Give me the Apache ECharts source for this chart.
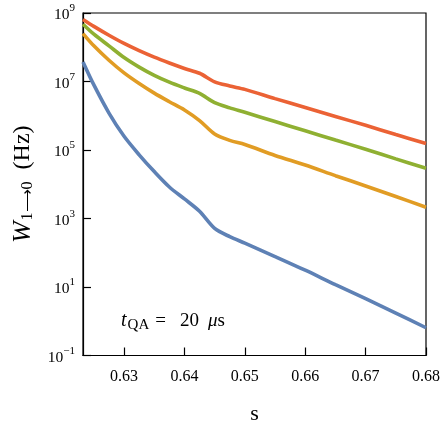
<!DOCTYPE html>
<html>
<head>
<meta charset="utf-8">
<script src="https://cdn.jsdelivr.net/npm/echarts@6/dist/echarts.min.js"></script>
<style>
  html, body { margin: 0; padding: 0; background: #fff; }
  #chart { width: 443px; height: 431px; }
</style>
</head>
<body>
<div id="chart"></div>
<script>
// s values (x axis)
const sValues = [0.6232, 0.625, 0.6275, 0.63, 0.6325, 0.635, 0.6375, 0.64, 0.6425,
  0.645, 0.6475, 0.65, 0.655, 0.66, 0.665, 0.67, 0.675, 0.68];

// W 1->0 in Hz, one array per curve
const redRates = [6.46e8, 4.07e8, 2.24e8, 1.29e8, 7.94e7, 5.13e7, 3.47e7, 2.40e7, 1.74e7,
  9.77e6, 7.41e6, 5.89e6, 3.16e6, 1.74e6, 9.55e5, 5.25e5, 2.82e5, 1.55e5];
const greenRates = [4.68e8, 2.40e8, 1.10e8, 5.01e7, 2.63e7, 1.51e7, 9.55e6, 6.46e6, 4.47e6,
  2.40e6, 1.70e6, 1.26e6, 6.76e5, 3.63e5, 1.95e5, 1.05e5, 5.50e4, 2.95e4];
const orangeRates = [2.51e8, 1.10e8, 4.17e7, 1.78e7, 8.71e6, 4.57e6, 2.57e6, 1.48e6, 7.24e5,
  2.95e5, 1.91e5, 1.45e5, 6.92e4, 3.63e4, 1.78e4, 8.91e3, 4.37e3, 2.14e3];
const blueRates = [3.72e7, 7.94e6, 1.20e6, 2.51e5, 7.24e4, 2.34e4, 8.32e3, 3.72e3, 1.62e3,
  513, 295, 191, 77.6, 30.9, 11.7, 4.57, 1.74, 0.646];

const xTicks = [0.63, 0.64, 0.65, 0.66, 0.67, 0.68];

const FONT = 'Liberation Serif';

function pairs(ys) {
  return sValues.map((s, i) => [s, ys[i]]);
}

function lineSeries(ys, color, z) {
  return {
    type: 'line',
    data: pairs(ys),
    showSymbol: false,
    smooth: 0.3,
    z: z,
    lineStyle: { color: color, width: 3.6 },
    clip: true
  };
}

const chart = echarts.init(document.getElementById('chart'));

chart.setOption({
  animation: false,
  grid: {
    left: 83, right: 17, top: 13, bottom: 75.5,
    show: true, borderColor: '#000', borderWidth: 1.2,
    outerBoundsMode: 'none'
  },
  xAxis: {
    type: 'value',
    min: 0.6232,
    max: 0.68,
    name: 's',
    nameLocation: 'middle',
    nameGap: 48,
    nameTextStyle: { fontFamily: FONT, fontSize: 22, color: '#000' },
    axisLine: { show: true, onZero: false, lineStyle: { color: '#000', width: 1.2 } },
    axisTick: { show: true, inside: true, length: 8, customValues: xTicks, lineStyle: { color: '#000', width: 1.2 } },
    axisLabel: {
      customValues: xTicks,
      margin: 13,
      fontFamily: FONT, fontSize: 16, color: '#000',
      formatter: (v) => v.toFixed(2)
    },
    splitLine: { show: false }
  },
  yAxis: {
    type: 'log',
    logBase: 10,
    min: 0.1,
    max: 1e9,
    interval: 2,
    name: '{w|W}{sub|1⟶0}{n|  (Hz)}',
    nameLocation: 'middle',
    nameRotate: 90,
    nameGap: 47,
    nameTextStyle: {
      color: '#000',
      rich: {
        w: { fontFamily: FONT, fontStyle: 'italic', fontSize: 26, color: '#000' },
        sub: { fontFamily: FONT, fontSize: 16, color: '#000', verticalAlign: 'bottom', padding: [9, 0, 0, 1] },
        n: { fontFamily: FONT, fontSize: 24, color: '#000' }
      }
    },
    axisLine: { show: true, lineStyle: { color: '#000', width: 1.2 } },
    axisTick: { show: true, inside: true, length: 8, lineStyle: { color: '#000', width: 1.2 } },
    minorTick: { show: false },
    axisLabel: {
      margin: 8,
      formatter: (v) => {
        const e = Math.round(Math.log10(v));
        return '{b|10}{e|' + (e < 0 ? '−' + (-e) : e) + '}';
      },
      rich: {
        b: { fontFamily: FONT, fontSize: 15.5, color: '#000', verticalAlign: 'bottom' },
        e: { fontFamily: FONT, fontSize: 11, color: '#000', verticalAlign: 'bottom', padding: [0, 0, 9, 0] }
      }
    },
    splitLine: { show: false }
  },
  graphic: [{
    type: 'text',
    left: 121,
    top: 311,
    style: {
      text: '{t|t}{q|QA}{eq|=}{n|20}{m|μ}{s|s}',
      rich: {
        t: { fontFamily: FONT, fontStyle: 'italic', fontSize: 20, fill: '#000' },
        q: { fontFamily: FONT, fontSize: 15, fill: '#000', verticalAlign: 'bottom', padding: [9, 0, 0, 1] },
        eq: { fontFamily: FONT, fontSize: 19, fill: '#000', padding: [0, 0, 0, 6] },
        n: { fontFamily: FONT, fontSize: 19, fill: '#000', padding: [0, 0, 0, 14] },
        m: { fontFamily: FONT, fontStyle: 'italic', fontSize: 19, fill: '#000', padding: [0, 0, 0, 9] },
        s: { fontFamily: FONT, fontSize: 19, fill: '#000' }
      }
    }
  }],
  series: [
    lineSeries(blueRates, '#5E81B5', 2),
    lineSeries(orangeRates, '#E19C24', 3),
    lineSeries(greenRates, '#8FB032', 4),
    lineSeries(redRates, '#EB6235', 5)
  ]
});

window.addEventListener('resize', () => chart.resize());
</script>
</body>
</html>
